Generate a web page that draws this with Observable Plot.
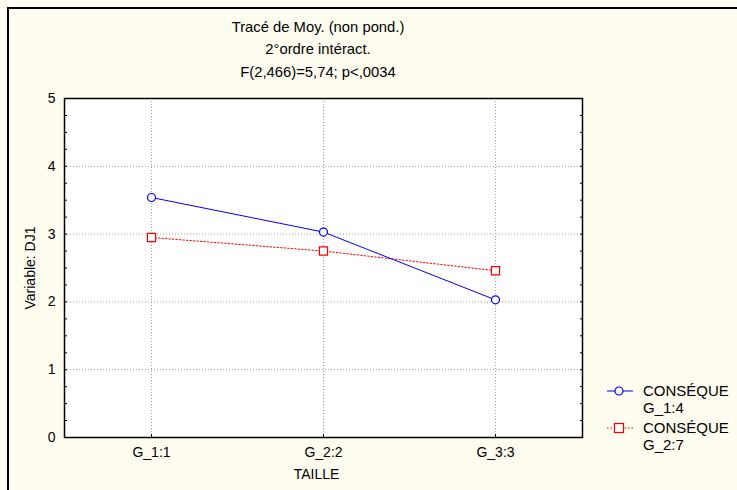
<!DOCTYPE html>
<html><head><meta charset="utf-8">
<script src="https://cdn.jsdelivr.net/npm/d3@7"></script>
<script src="https://cdn.jsdelivr.net/npm/@observablehq/plot@0.6"></script>
<style>
html,body{margin:0;padding:0;background:#fffdf0;}
#wrap{position:relative;width:737px;height:490px;background:#fffdf0;font-family:"Liberation Sans",Arial,sans-serif;overflow:hidden;}
#border{position:absolute;left:7px;top:7px;width:740px;height:500px;border-left:2px solid #000;border-top:2px solid #000;}
.t{position:absolute;left:218px;width:200px;text-align:center;font-size:14.8px;color:#000;white-space:nowrap;}
#legend{position:absolute;left:604px;top:382px;font-size:15px;line-height:17px;}
.li{position:relative;padding-left:39px;margin-bottom:3px;}
.li svg{position:absolute;left:0;top:1px;}
</style></head>
<body><div id="wrap"><div id="border"></div>
<div class="t" style="top:19px">Tracé de Moy. (non pond.)</div>
<div class="t" style="top:41px">2°ordre intéract.</div>
<div class="t" style="top:64px">F(2,466)=5,74; p&lt;,0034</div>
<div id="legend"></div>
</div>
<script>
const categories = ["G_1:1", "G_2:2", "G_3:3"];
const seriesNames = ["CONSÉQUE\nG_1:4", "CONSÉQUE\nG_2:7"];
const blueValues = [3.54, 3.03, 2.03];
const redValues = [2.95, 2.75, 2.46];
const yTicks = [0, 1, 2, 3, 4, 5];
const yMinorTicks = d3.range(0, 5.001, 0.25);

const data = [
  ...categories.map((c, i) => ({cat: c, v: blueValues[i], s: seriesNames[0]})),
  ...categories.map((c, i) => ({cat: c, v: redValues[i], s: seriesNames[1]}))
];
const blue = data.filter(d => d.s === seriesNames[0]);
const red = data.filter(d => d.s === seriesNames[1]);

const chart = Plot.plot({
  width: 737, height: 490,
  marginLeft: 64, marginRight: 155, marginTop: 98, marginBottom: 53,
  style: {background: "transparent", fontFamily: "Liberation Sans, Arial, sans-serif", fontSize: "14px", color: "#000"},
  x: {type: "point", domain: categories, padding: 0.5, label: null},
  y: {domain: [0, 5], label: null},
  marks: [
    Plot.frame({fill: "white", stroke: "none"}),
    Plot.gridX(categories, {stroke: "#a0a0a0", strokeOpacity: 1, strokeDasharray: "1,2"}),
    Plot.gridY(yTicks, {stroke: "#a0a0a0", strokeOpacity: 1, strokeDasharray: "1,2"}),
    Plot.axisY({anchor: "left", ticks: yTicks, tickSize: 0, tickPadding: 9, fontSize: 14, tickFormat: d3.format("d"), label: null}),
    Plot.axisY({anchor: "left", ticks: yMinorTicks, tickSize: -3, tickFormat: () => "", label: null}),
    Plot.axisY({anchor: "right", ticks: yMinorTicks, tickSize: -3, tickFormat: () => "", label: null}),
    Plot.axisX({anchor: "bottom", tickSize: -3, tickPadding: 13, fontSize: 14, label: null}),
    Plot.text(["Variable: DJ1"], {frameAnchor: "left", textAnchor: "middle", rotate: -90, dx: -34, fontSize: 14}),
    Plot.text(["TAILLE"], {frameAnchor: "bottom", dy: 41, dx: -7, fontSize: 14}),
    Plot.line(red, {x: "cat", y: "v", stroke: "#ff0000", strokeWidth: 1, strokeDasharray: "1.5,2"}),
    Plot.line(blue, {x: "cat", y: "v", stroke: "#0000ff", strokeWidth: 1}),
    Plot.dot(red, {x: "cat", y: "v", symbol: "square", r: 4.6, stroke: "#ff0000", fill: "white", strokeWidth: 1.2}),
    Plot.dot(blue, {x: "cat", y: "v", symbol: "circle", r: 4, stroke: "#0000ff", fill: "white", strokeWidth: 1.2}),
    Plot.frame({stroke: "#000", strokeWidth: 1.5})
  ]
});
document.getElementById("wrap").appendChild(chart);
chart.style.position = "absolute";
chart.style.left = "0px";
chart.style.top = "0px";

const legend = document.getElementById("legend");
const styles = [
  {stroke: "#0000ff", dash: null, sym: "circle"},
  {stroke: "#ff0000", dash: "1.5,2", sym: "square"}
];
seriesNames.forEach((name, i) => {
  const st = styles[i];
  const div = document.createElement("div");
  div.className = "li";
  const marker = st.sym === "circle"
    ? `<circle cx="15" cy="8" r="4" fill="white" stroke="${st.stroke}" stroke-width="1.2"/>`
    : `<rect x="10.5" y="3.5" width="9" height="9" fill="white" stroke="${st.stroke}" stroke-width="1.2"/>`;
  div.innerHTML = `<svg width="30" height="16"><line x1="3" x2="29" y1="8" y2="8" stroke="${st.stroke}" ${st.dash ? `stroke-dasharray="${st.dash}"` : ""}/>${marker}</svg>` +
    name.split("\n").join("<br>");
  legend.appendChild(div);
});
</script>
</body></html>
